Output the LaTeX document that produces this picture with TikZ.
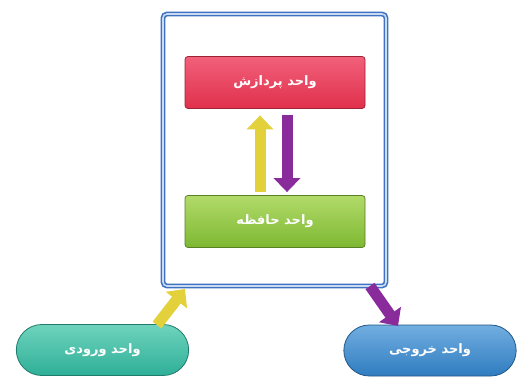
\documentclass[tikz,border=0pt]{standalone}
\usepackage{fontspec}
\newfontfamily\arabicfont[Script=Arabic]{DejaVu Sans}
\TeXXeTstate=1
\usetikzlibrary{arrows.meta,shapes.misc}
\definecolor{frameblue}{HTML}{3F72C0}
\definecolor{framelight}{HTML}{C9DBF2}
\definecolor{redfill}{HTML}{E0304C}
\definecolor{redtop}{HTML}{F2607A}
\definecolor{greenfill}{HTML}{7DB832}
\definecolor{greentop}{HTML}{B2DA6A}
\definecolor{tealfill}{HTML}{2EAF98}
\definecolor{tealtop}{HTML}{6FD3BD}
\definecolor{bluefill}{HTML}{2F7CC0}
\definecolor{bluetop}{HTML}{72AEE0}
\definecolor{arrowyellow}{HTML}{E2D13A}
\definecolor{arrowpurple}{HTML}{8A2B9C}
\tikzset{
  labelfont/.style={font=\arabicfont\bfseries\fontsize{13}{15}\selectfont},
  unitbox/.style={rectangle, rounded corners=3pt, minimum width=180pt, minimum height=52pt, draw=#1!70!black, line width=0.8pt, text=white, labelfont},
  pill/.style={rounded rectangle, minimum width=179pt, minimum height=51pt, draw=#1!70!black, line width=0.8pt, text=white, labelfont},
  fatarrow/.style={line width=11pt, draw=#1, -{Triangle[length=14pt,width=26pt]}},
}
\begin{document}
\begin{tikzpicture}[x=1pt,y=-1pt]
\useasboundingbox (0,0) rectangle (530,379);
\fill[white] (0,0) rectangle (530,379);
% frame
\node[draw=frameblue, line width=1.6pt, double=framelight, double distance=1.6pt, rounded corners=4pt, minimum width=223pt, minimum height=272pt, inner sep=0pt] (cpu) at (274.5,150) {};
% units
\node[unitbox=redfill, top color=redtop, bottom color=redfill] (proc) at (275,82.5) {\beginR واحد پردازش\endR};
\node[unitbox=greenfill, top color=greentop, bottom color=greenfill] (mem) at (275,221.5) {\beginR واحد حافظه\endR};
\node[pill=tealfill, top color=tealtop, bottom color=tealfill] (in) at (102.5,350) {\beginR واحد ورودی\endR};
\node[pill=bluefill, top color=bluetop, bottom color=bluefill] (out) at (430,350.5) {\beginR واحد خروجی\endR};
% arrows inside
\coordinate (ya) at ([xshift=-15pt,yshift=3pt]mem.north);
\coordinate (yb) at ([xshift=-15pt,yshift=-6.5pt]proc.south);
\coordinate (pa) at ([xshift=12pt,yshift=-6.5pt]proc.south);
\coordinate (pb) at ([xshift=12pt,yshift=3pt]mem.north);
\draw[fatarrow=arrowyellow] (ya) -- (yb);
\draw[fatarrow=arrowpurple] (pa) -- (pb);
% arrows outside
\coordinate (i1) at (157,325);
\coordinate (i2) at (185,289);
\coordinate (o1) at (370,286);
\coordinate (o2) at (398,326);
\draw[fatarrow=arrowyellow] (i1) -- (i2);
\draw[fatarrow=arrowpurple] (o1) -- (o2);
\end{tikzpicture}
\end{document}
